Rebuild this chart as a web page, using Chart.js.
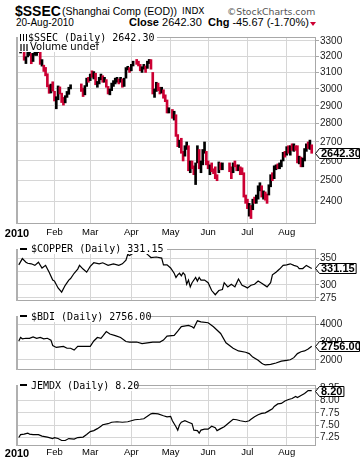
<!DOCTYPE html>
<html>
<head>
<meta charset="utf-8">
<title>$SSEC</title>
<script src="https://cdn.jsdelivr.net/npm/chart.js@4.4.1/dist/chart.umd.min.js"></script>
<style>
  html, body { margin: 0; padding: 0; background: #fff; }
  #page { position: relative; width: 360px; height: 463px; overflow: hidden; font-family: 'Liberation Sans', Arial, sans-serif; color: #000; }
  #page canvas { position: absolute; left: 0; }
  .t { position: absolute; white-space: nowrap; line-height: 1; }
  .box { position: absolute; left: 18px; background: #fff; white-space: nowrap; }
  .box span { position: absolute; top: 0; }
  .mono { font-family: 'DejaVu Sans Mono', monospace; font-size: 10px; }
  .dash { position: absolute; left: 2px; width: 7px; height: 2px; background: #000; }
</style>
</head>
<body>
<div id="page">
  <canvas id="mainChart" width="360" height="211" style="top:30px"></canvas>
  <canvas id="copperChart" width="360" height="66" style="top:242px"></canvas>
  <canvas id="bdiChart" width="360" height="68" style="top:309px"></canvas>
  <canvas id="jemdxChart" width="360" height="85" style="top:378px"></canvas>

  <div class="t" style="left:15px;top:4px;font-weight:bold;font-size:14px">$SSEC</div>
  <div class="t" style="left:62px;top:6px;font-size:10.5px">(Shanghai Comp (EOD))</div>
  <div class="t" style="left:182px;top:7px;font-family:'DejaVu Sans';font-size:9px">INDX</div>
  <div class="t" style="left:227px;top:7px;font-family:'DejaVu Sans';font-size:9.3px;color:#555">©StockCharts.com</div>
  <div class="t" style="left:16px;top:18px;font-size:10px">20-Aug-2010</div>
  <div class="t" style="left:129px;top:17px;font-size:11px"><b>Close</b> 2642.30</div>
  <div class="t" style="left:208px;top:17px;font-size:11px"><b>Chg</b> -45.67 (-1.70%)</div>
  <div style="position:absolute;left:310px;top:22px;width:0;height:0;border-left:3px solid transparent;border-right:3px solid transparent;border-top:4px solid #cc0033"></div>

  <div class="box mono" style="top:33px;width:139px;height:9px;line-height:9px">
    <span style="left:2px;top:1px;width:8px;height:7px;background:linear-gradient(to right,#000 0 1px,transparent 1px 3px,#000 3px 4px,transparent 4px 6px,#000 6px 7px,transparent 7px)"></span>
    <span style="left:10px">$SSEC (Daily) 2642.30</span>
  </div>
  <div class="box" style="top:42px;width:75px;height:10px;line-height:10px;font-family:'DejaVu Sans';font-size:10px">
    <span style="left:2px;top:2px;width:9px;height:7px;background:linear-gradient(to right,#666 0 2px,transparent 2px 3px,#666 3px 5px,transparent 5px 6px,#666 6px 8px,transparent 8px)"></span>
    <span style="left:12px">Volume undef</span>
  </div>
  <div class="box mono" style="top:244px;width:149px;height:10px;line-height:10px">
    <span class="dash" style="top:4px"></span>
    <span style="left:13px">$COPPER (Daily) 331.15</span>
  </div>
  <div class="box mono" style="top:311px;width:130px;height:11px;line-height:11px">
    <span class="dash" style="top:4px"></span>
    <span style="left:13px">$BDI (Daily) 2756.00</span>
  </div>
  <div class="box mono" style="top:380px;width:117px;height:11px;line-height:11px">
    <span class="dash" style="top:4px"></span>
    <span style="left:13px">JEMDX (Daily) 8.20</span>
  </div>
</div>

<script>
// x values are weekday numbers counted from Mon 4-Jan-2010 (0) to Fri 20-Aug-2010 (164)
let monthTicks = [-1, 20, 40, 63, 85, 106, 128, 150]
let monthLabels = ['2010', 'Feb', 'Mar', 'Apr', 'May', 'Jun', 'Jul', 'Aug']

// $SSEC daily bars, one entry per weekday, null = exchange holiday
let ssecHigh = [3295, 3290, 3295, 3268, 3198, 3276, 3273, 3219, 3220, 3238,
  3242, 3253, 3241, 3180, 3145, 3131, 3092, 3024, 3029, 3043,
  2986, 2954, 3018, 3012, 2975, 2950, 2960, 2985, 3010, 3025,
  null, null, null, null, null, 3030, 3005, 3020, 3065, 3070,
  3090, 3110, 3105, 3095, 3045, 3070, 3090, 3080, 3070, 3056,
  3015, 3000, 3035, 3050, 3065, 3070, 3060, 3070, 3060, 3065,
  3130, 3138, 3130, 3150, 3170, null, 3181, 3170, 3150, 3135,
  3150, 3140, 3170, 3181, 3180, 3100, 3000, 3040, 3035, 3010,
  3010, 2995, 2965, 2935, 2890, null, 2880, 2870, 2850, 2740,
  2710, 2720, 2650, 2680, 2700, 2680, 2600, 2600, 2575, 2590,
  2680, 2660, 2600, 2660, 2700, 2650, 2600, 2580, 2590, 2560,
  2570, 2530, 2595, 2590, 2590, null, null, null, 2590, 2570,
  2590, 2600, 2580, 2580, 2570, 2565, 2540, 2430, 2410, 2390,
  2380, 2410, 2420, 2430, 2475, 2490, 2475, 2450, 2445, 2435,
  2480, 2530, 2540, 2575, 2580, 2585, 2590, 2605, 2645, 2650,
  2675, 2680, 2680, 2690, 2690, 2680, 2680, 2625, 2620, 2615,
  2665, 2690, 2700, 2710, 2685]
let ssecLow = [3243, 3222, 3253, 3176, 3155, 3197, 3206, 3154, 3168, 3207,
  3206, 3224, 3150, 3139, 3106, 3079, 3012, 2974, 2976, 2987,
  2929, 2884, 2936, 2970, 2920, 2905, 2918, 2950, 2968, 3000,
  null, null, null, null, null, 2985, 2955, 2965, 3015, 3040,
  3050, 3070, 3060, 3025, 3010, 3030, 3055, 3040, 3040, 3010,
  2970, 2965, 2990, 3015, 3030, 3040, 3030, 3040, 3010, 3015,
  3065, 3115, 3100, 3110, 3140, null, 3150, 3140, 3110, 3100,
  3120, 3100, 3125, 3155, 3120, 2970, 2950, 2985, 2990, 2970,
  2975, 2945, 2925, 2860, 2860, null, 2830, 2820, 2730, 2675,
  2670, 2640, 2600, 2625, 2660, 2550, 2540, 2560, 2530, 2481,
  2590, 2560, 2540, 2580, 2640, 2580, 2560, 2530, 2545, 2535,
  2510, 2500, 2540, 2555, 2555, null, null, null, 2545, 2510,
  2540, 2570, 2550, 2550, 2530, 2530, 2420, 2390, 2365, 2330,
  2319, 2360, 2390, 2390, 2410, 2450, 2420, 2410, 2405, 2390,
  2430, 2470, 2500, 2510, 2555, 2560, 2560, 2570, 2600, 2620,
  2630, 2640, 2630, 2655, 2650, 2655, 2590, 2585, 2570, 2570,
  2600, 2650, 2665, 2660, 2640]
let ssecClose = [3244, 3282, 3254, 3193, 3196, 3213, 3273, 3173, 3216, 3224,
  3237, 3247, 3151, 3159, 3129, 3094, 3019, 2987, 3011, 2989,
  2941, 2949, 3000, 2980, 2940, 2930, 2955, 2980, 3005, 3018,
  null, null, null, null, null, 3000, 2980, 3018, 3060, 3051,
  3087, 3082, 3100, 3027, 3033, 3061, 3077, 3047, 3051, 3013,
  2976, 2987, 3026, 3039, 3052, 3062, 3046, 3057, 3019, 3059,
  3128, 3129, 3109, 3147, 3165, null, 3161, 3151, 3113, 3131,
  3132, 3125, 3166, 3173, 3130, 2980, 2995, 3034, 3001, 2979,
  3000, 2962, 2941, 2869, 2870, null, 2836, 2856, 2739, 2688,
  2698, 2643, 2634, 2660, 2697, 2556, 2587, 2573, 2544, 2583,
  2673, 2561, 2580, 2651, 2656, 2592, 2569, 2571, 2553, 2552,
  2515, 2514, 2590, 2568, 2569, null, null, null, 2560, 2514,
  2585, 2579, 2566, 2568, 2552, 2536, 2427, 2398, 2373, 2382,
  2364, 2409, 2407, 2416, 2470, 2475, 2426, 2443, 2424, 2410,
  2475, 2528, 2505, 2572, 2573, 2572, 2575, 2599, 2638, 2637,
  2672, 2643, 2677, 2669, 2689, 2672, 2595, 2610, 2595, 2604,
  2661, 2687, 2672, 2688, 2642.30]
let ssecTicks = [2400, 2500, 2600, 2700, 2800, 2900, 3000, 3100, 3200, 3300]

let copperDay = [0, 2, 4, 5, 7, 9, 11, 13, 15, 17, 19, 20, 22, 24, 26, 28, 29, 31, 33, 34,
  36, 38, 40, 42, 45, 47, 50, 53, 56, 58, 60, 61, 62, 64, 66, 68, 70, 72, 74, 77,
  80, 81, 83, 85, 87, 88, 89, 90, 91, 92, 93, 94, 95, 96, 97, 99, 100, 101, 102, 104,
  106, 108, 110, 112, 114, 115, 117, 119, 121, 123, 125, 127, 128, 130, 132, 134, 136, 139, 141, 142,
  144, 146, 148, 150, 152, 154, 156, 157, 159, 161, 163, 164]
let copperValue = [338, 350, 343, 341, 340, 337, 343, 332, 337, 324, 309, 307, 294, 286, 299, 309, 312, 322, 330, 337,
  330, 324, 335, 342, 340, 342, 337, 340, 337, 340, 347, 358, 356, 360, 362, 360, 364, 358, 352, 353,
  351, 338, 338, 332, 322, 314, 319, 322, 317, 323, 319, 301, 309, 296, 304, 314, 307, 314, 309, 309,
  304, 289, 281, 289, 291, 304, 296, 301, 296, 311, 299, 296, 294, 299, 301, 307, 303, 296, 304, 319,
  324, 330, 337, 338, 340, 337, 335, 331, 331, 337, 333, 331.15]
let copperTicks = [275, 300, 325, 350]

let bdiDay = [0, 1, 2, 4, 6, 8, 10, 12, 14, 16, 18, 19, 21, 23, 25, 27, 29, 31, 33, 36,
  40, 42, 44, 46, 47, 49, 51, 54, 57, 60, 62, 66, 69, 72, 75, 79, 81, 83, 87, 89,
  91, 95, 97, 98, 100, 102, 106, 109, 113, 116, 120, 123, 127, 129, 131, 134, 136, 137, 138, 141,
  144, 147, 150, 152, 154, 156, 158, 160, 162, 164]
let bdiValue = [3052, 3248, 3174, 3203, 3203, 3278, 3203, 3248, 3174, 3203, 3097, 2797, 2690, 2722, 2750, 2645, 2645, 2540, 2750, 2750,
  2750, 3052, 3248, 3203, 3323, 3578, 3443, 3353, 3248, 3022, 2992, 2992, 2902, 2947, 2992, 2992, 3100, 3323, 3368, 3600,
  3860, 3925, 3850, 3774, 4180, 4120, 4075, 3849, 3472, 2947, 2645, 2495, 2420, 2345, 2149, 1968, 1800, 1750, 1710, 1743,
  1819, 1923, 1968, 2000, 2118, 2345, 2450, 2495, 2600, 2756]
let bdiTicks = [2000, 3000, 4000]

let jemdxDay = [0, 1, 3, 5, 6, 8, 11, 13, 16, 19, 20, 22, 24, 26, 28, 31, 33, 36, 38, 40,
  42, 44, 46, 47, 50, 52, 55, 58, 61, 63, 65, 68, 70, 72, 74, 75, 78, 81, 83, 85,
  86, 88, 89, 90, 91, 93, 95, 97, 98, 100, 101, 102, 104, 106, 108, 110, 111, 113, 115, 116,
  118, 120, 122, 124, 127, 129, 130, 132, 134, 136, 138, 140, 142, 143, 145, 147, 149, 151, 153, 155,
  156, 158, 160, 162, 164]
let jemdxValue = [7.25, 7.31, 7.32, 7.34, 7.32, 7.31, 7.31, 7.28, 7.26, 7.23, 7.25, 7.23, 7.19, 7.19, 7.23, 7.22, 7.25, 7.26, 7.31, 7.37,
  7.39, 7.43, 7.48, 7.51, 7.53, 7.56, 7.57, 7.56, 7.57, 7.59, 7.61, 7.62, 7.63, 7.68, 7.73, 7.74, 7.73, 7.69, 7.67, 7.68,
  7.59, 7.47, 7.40, 7.51, 7.56, 7.59, 7.56, 7.53, 7.40, 7.39, 7.34, 7.40, 7.42, 7.42, 7.48, 7.45, 7.39, 7.43, 7.47, 7.50,
  7.56, 7.62, 7.61, 7.59, 7.57, 7.59, 7.62, 7.67, 7.71, 7.74, 7.75, 7.79, 7.83, 7.88, 7.93, 7.94, 7.99, 8.02, 8.04, 8.08,
  8.06, 8.10, 8.14, 8.20, 8.20]
let jemdxTicks = [7.25, 7.5, 7.75, 8, 8.25]

let red = '#cc0033'
let gridColor = '#d6d6d6'
let sans = "'Liberation Sans', Arial, sans-serif"

// gray box round the plot area, heavier on the left side
let framePlugin = {
  id: 'frame',
  afterDatasetsDraw (chart) {
    let a = chart.chartArea
    let ctx = chart.ctx
    ctx.save()
    ctx.strokeStyle = '#a8a8a8'
    ctx.lineWidth = 1
    ctx.strokeRect(a.left + 0.5, a.top + 0.5, a.right - a.left - 1, a.bottom - a.top - 1)
    ctx.fillStyle = '#b0b0b0'
    ctx.fillRect(a.left - 1, a.top, 2, a.bottom - a.top)
    ctx.restore()
  }
}

// boxed last value on the price axis
let lastTagPlugin = {
  id: 'lastTag',
  afterDraw (chart, args, opts) {
    if (!opts || opts.value === undefined) return
    let ctx = chart.ctx
    let y = Math.round(chart.scales.y.getPixelForValue(opts.value)) + 0.5
    let x0 = chart.chartArea.right - 0.5
    ctx.save()
    ctx.font = 'bold 11px ' + sans
    let w = ctx.measureText(opts.text).width
    let left = x0 + 4
    let right = Math.min(left + w + 3, chart.width - 0.5)
    ctx.beginPath()
    ctx.moveTo(x0, y)
    ctx.lineTo(left, y - 5)
    ctx.lineTo(right, y - 5)
    ctx.lineTo(right, y + 5)
    ctx.lineTo(left, y + 5)
    ctx.closePath()
    ctx.fillStyle = '#fff'
    ctx.fill()
    ctx.strokeStyle = '#000'
    ctx.lineWidth = 1
    ctx.stroke()
    ctx.fillStyle = '#000'
    ctx.textBaseline = 'middle'
    ctx.fillText(opts.text, left + 1.5, y + 0.5)
    ctx.restore()
  }
}

function panelOptions (p) {
  return {
    responsive: false,
    animation: false,
    events: [],
    layout: { padding: { left: 17, top: p.top, right: 0, bottom: 0 } },
    plugins: {
      legend: { display: false },
      tooltip: { enabled: false },
      lastTag: { value: p.last, text: p.lastText }
    },
    scales: {
      x: {
        type: 'linear',
        min: -1,
        max: 166.4,
        offset: false,
        afterBuildTicks: function (axis) { axis.ticks = monthTicks.map(function (v) { return { value: v } }) },
        afterFit: function (axis) { axis.height = p.dates ? 17 : 0 },
        grid: { color: gridColor, drawTicks: false, offset: false },
        border: { display: false },
        ticks: {
          display: p.dates,
          padding: p.datePad || 0,
          maxRotation: 0,
          autoSkip: false,
          color: '#000',
          font: function (c) { return c.index === 0 ? { family: sans, size: 11, weight: 'bold' } : { family: sans, size: 9.5 } },
          callback: function (v) { return monthLabels[monthTicks.indexOf(v)] }
        }
      },
      y: {
        type: p.log ? 'logarithmic' : 'linear',
        position: 'right',
        min: p.min,
        max: p.max,
        afterBuildTicks: function (axis) { axis.ticks = p.ticks.map(function (v) { return { value: v } }) },
        afterFit: function (axis) { axis.width = 44 },
        grid: { color: gridColor, tickLength: 3, tickColor: '#a8a8a8' },
        border: { display: false },
        ticks: {
          padding: 1,
          color: '#222',
          font: { family: sans, size: 10 },
          callback: p.format
        }
      }
    }
  }
}

// high-low bars, black when the close is up on the day, red when down
let ssecBars = []
let ssecColors = []
let prevClose = null
for (let i = 0; i < ssecClose.length; i++) {
  if (ssecClose[i] === null) continue
  ssecBars.push({ x: i, y: [ssecLow[i], ssecHigh[i]] })
  ssecColors.push(prevClose !== null && ssecClose[i] < prevClose ? red : '#000')
  prevClose = ssecClose[i]
}

function linePoints (days, values) {
  return days.map(function (d, i) { return { x: d, y: values[i] } })
}

function lineDataset (days, values) {
  return {
    data: linePoints(days, values),
    borderColor: '#000',
    borderWidth: 1.2,
    pointRadius: 0,
    tension: 0
  }
}

new Chart(document.getElementById('mainChart'), {
  type: 'bar',
  data: {
    datasets: [{
      data: ssecBars,
      backgroundColor: ssecColors,
      borderWidth: 0,
      barThickness: 2,
      grouped: false
    }]
  },
  options: panelOptions({
    top: 2, dates: true, datePad: 3, log: true, min: 2294, max: 3326, ticks: ssecTicks,
    format: function (v) { return String(v) }, last: 2642.30, lastText: '2642.30'
  }),
  plugins: [framePlugin, lastTagPlugin]
})

new Chart(document.getElementById('copperChart'), {
  type: 'line',
  data: { datasets: [lineDataset(copperDay, copperValue)] },
  options: panelOptions({
    top: 1, dates: false, min: 269, max: 368.3, ticks: copperTicks,
    format: function (v) { return String(v) }, last: 331.15, lastText: '331.15'
  }),
  plugins: [framePlugin, lastTagPlugin]
})

new Chart(document.getElementById('bdiChart'), {
  type: 'line',
  data: { datasets: [lineDataset(bdiDay, bdiValue)] },
  options: panelOptions({
    top: 1, dates: false, min: 1426, max: 4451, ticks: bdiTicks,
    format: function (v) { return String(v) }, last: 2756, lastText: '2756.00'
  }),
  plugins: [framePlugin, lastTagPlugin]
})

new Chart(document.getElementById('jemdxChart'), {
  type: 'line',
  data: { datasets: [lineDataset(jemdxDay, jemdxValue)] },
  options: panelOptions({
    top: 1, dates: true, datePad: 1, min: 7.079, max: 8.313, ticks: jemdxTicks,
    format: function (v) { return v.toFixed(2) }, last: 8.20, lastText: '8.20'
  }),
  plugins: [framePlugin, lastTagPlugin]
})
</script>
</body>
</html>
